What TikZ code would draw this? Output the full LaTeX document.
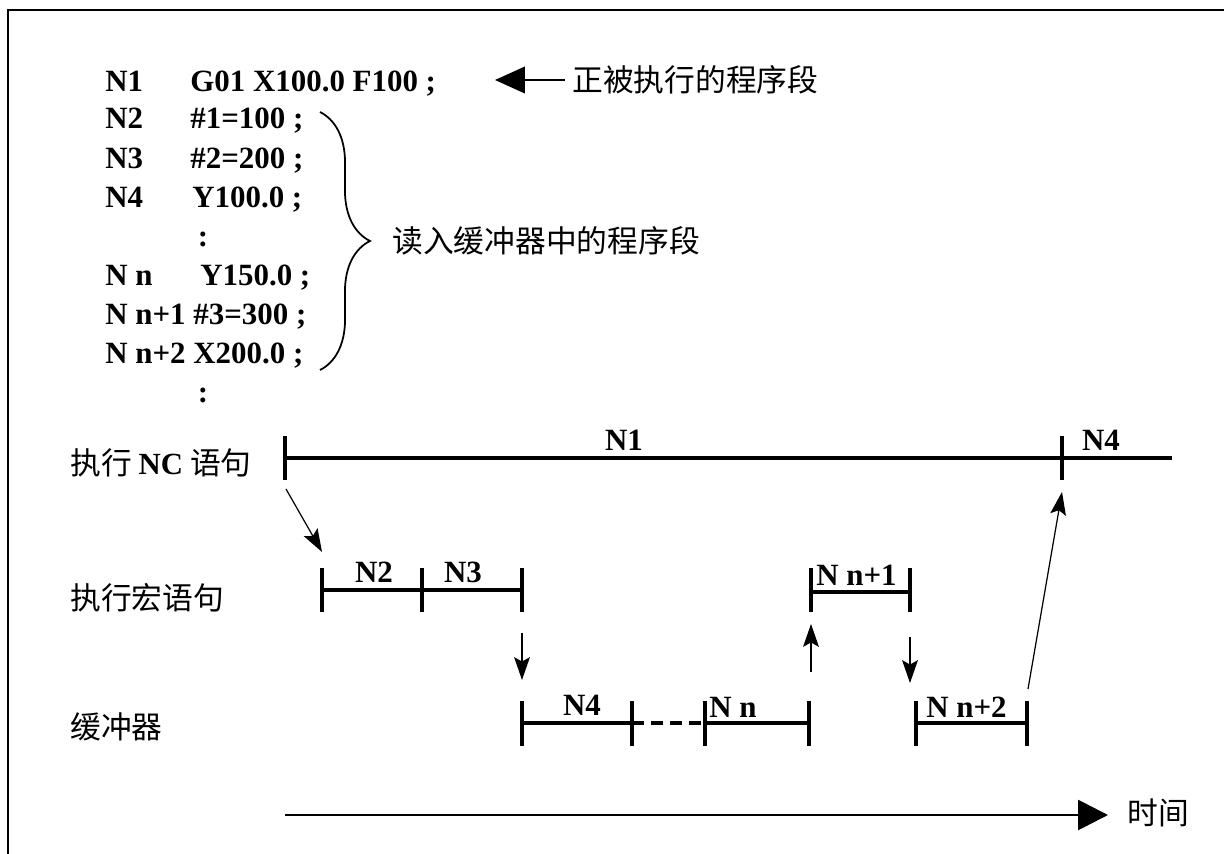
\documentclass[tikz,border=0pt]{standalone}
\usepackage{fontspec}
\setmainfont{Liberation Serif}
\newfontfamily\cjk{Noto Sans CJK SC}
\usepackage{tikz}
\usetikzlibrary{arrows.meta,positioning,decorations.pathreplacing}
\newcommand\codefont{\fontsize{17.6}{20}\selectfont\bfseries}
\newcommand\cnfont{\fontsize{17.5}{20}\selectfont\cjk}

\begin{document}
\begin{tikzpicture}[x=0.02cm,y=-0.02cm,
    code/.style={font=\codefont,anchor=base west,inner sep=0pt},
    seg/.style={font=\codefont,inner sep=0pt},
    cn/.style={font=\cnfont,anchor=west,inner sep=0pt},
    bar/.style={line width=1.8pt},
    push/.style={line width=0.7pt,-{Stealth[length=13pt,width=9pt,inset=2.5pt]}}]
  \useasboundingbox (0,0) rectangle (1224,854);
  \draw[line width=1.5pt] (8,854) -- (8,10) -- (1224,10);

  % program listing
  \node[code] (n1num) at (105,92) {N1};   \node[code] (n1code) at (190,92) {G01 X100.0 F100 ;};
  \node[code] (n2num) at (105,129) {N2};  \node[code] (n2code) at (190,129) {\#1=100 ;};
  \node[code] (n3num) at (105,169) {N3};  \node[code] (n3code) at (190,169) {\#2=200 ;};
  \node[code] (n4num) at (105,208) {N4};  \node[code] (n4code) at (192,208) {Y100.0 ;};
  \node[seg,anchor=base] (skipa) at (203,247) {:};
  \node[code] (nnnum) at (105,286) {N n}; \node[code] (nncode) at (200,286) {Y150.0 ;};
  \node[code] (nn1) at (105,325) {N n+1 \#3=300 ;};
  \node[code] (nn2) at (105,364) {N n+2 X200.0 ;};
  \node[seg,anchor=base] (skipb) at (203,403) {:};

  \coordinate (runtail) at (565,80);
  \coordinate (runtip) at (495,80);
  \draw[line width=1.6pt,-{Triangle[length=17pt,width=15pt]}] (runtail) -- (runtip);
  \node[cn] (runlbl) at (572,80) {正被执行的程序段};

  \coordinate (brtop) at (320,112);
  \coordinate (brbot) at (320,370);
  \draw[line width=1pt,decorate,decoration={brace,amplitude=1cm}] (brtop) -- (brbot);
  \node[cn] (buflbl) at (392,241) {读入缓冲器中的程序段};

  % time chart
  \node[cn] (rownc) at (70,463) {执行 {\rmfamily\bfseries NC} 语句};
  \node[cn] (rowmac) at (70,598) {执行宏语句};
  \node[cn] (rowbuf) at (70,727) {缓冲器};

  \draw[bar] (285,458) -- (1172,458);
  \foreach \x in {285,1062} \draw[bar] (\x,436) -- (\x,480);
  \node[seg] (segn1) at (624,440) {N1};
  \node[seg] (segn4) at (1101,440) {N4};

  \draw[bar] (322,590) -- (522,590);
  \draw[bar] (811,592) -- (910,592);
  \foreach \x in {322,422,522,811,910} \draw[bar] (\x,568) -- (\x,612);
  \node[seg] (segn2) at (374,572) {N2};
  \node[seg] (segn3) at (463,572) {N3};
  \node[seg,anchor=west] (segnn1) at (816,575) {N n+1};

  \draw[bar] (522,723) -- (632,723);
  \draw[bar,dash pattern=on 6.8pt off 4pt] (632,723) -- (705,723);
  \draw[bar] (705,723) -- (809,723);
  \draw[bar] (916,723) -- (1027,723);
  \foreach \x in {522,632,705,809,916,1027} \draw[bar] (\x,701) -- (\x,746);
  \node[seg] (segb4) at (582,705) {N4};
  \node[seg,anchor=west] (segbn) at (709,707) {N n};
  \node[seg,anchor=west] (segbn2) at (926,707) {N n+2};

  \coordinate (ncfoot) at (286,489);  \coordinate (macin) at (322,552);
  \coordinate (macout) at (522,633);  \coordinate (bufin) at (522,680);
  \coordinate (bufout) at (811,672);  \coordinate (macin2) at (811,624);
  \coordinate (macout2) at (910,637); \coordinate (bufin2) at (910,683);
  \coordinate (bufout2) at (1028,689); \coordinate (ncin) at (1062,492);
  \draw[push] (ncfoot) -- (macin);
  \draw[push] (macout) -- (bufin);
  \draw[push] (bufout) -- (macin2);
  \draw[push] (macout2) -- (bufin2);
  \draw[push] (bufout2) -- (ncin);

  \coordinate (tstart) at (285,815);
  \coordinate (tend) at (1108,815);
  \draw[line width=1.6pt,-{Triangle[length=17pt,width=17pt]}] (tstart) -- (tend);
  \node[cn] (timelbl) at (1127,813) {时间};
\end{tikzpicture}
\end{document}
